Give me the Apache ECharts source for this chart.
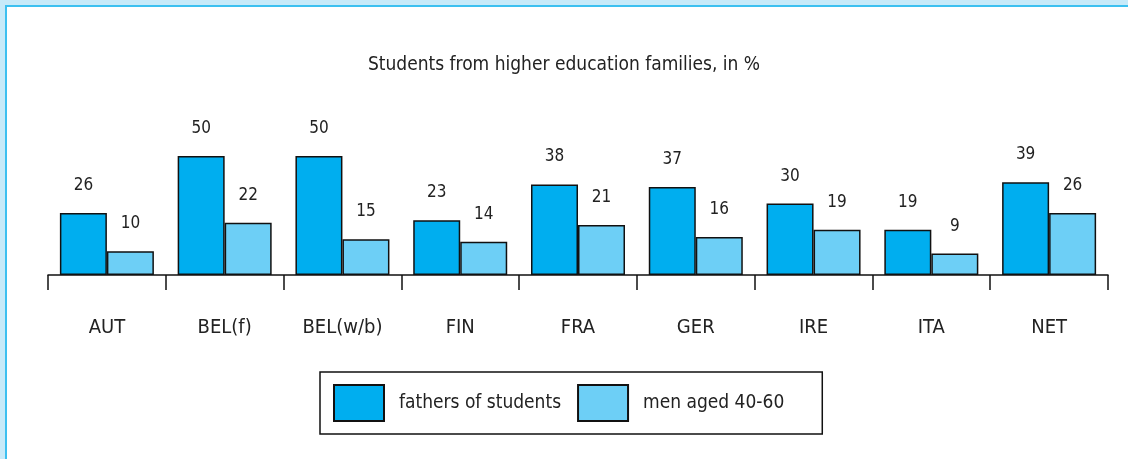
<!DOCTYPE html>
<html>
<head>
    <meta charset="utf-8">
    <title>Students from higher education families</title>
    <script src="https://cdn.jsdelivr.net/npm/echarts@6/dist/echarts.min.js"></script>
    <style>
        html, body { margin: 0; padding: 0; background: #c7eaf9; }
        #frame { position: absolute; left: 5px; top: 5px; width: 1123px; height: 454px;
                 background: #fff; border-left: 2px solid #3cc0f0; border-top: 2px solid #3cc0f0; }
        #main { position: absolute; left: 0; top: 0; width: 1128px; height: 459px; }
    </style>
</head>
<body>
    <div id="frame"></div>
    <div id="main"></div>
    <script type="text/javascript">
    // categories and values
    var countries = ['AUT', 'BEL(f)', 'BEL(w/b)', 'FIN', 'FRA', 'GER', 'IRE', 'ITA', 'NET'];
    var fathers = [26, 50, 50, 23, 38, 37, 30, 19, 39];
    var menAged = [10, 22, 15, 14, 21, 16, 19, 9, 26];

    var font = '"DejaVu Sans Condensed", "Liberation Sans Narrow", sans-serif';
    var myChart = echarts.init(document.getElementById('main'));

    function barSeries(name, data, color) {
        return {
            name: name,
            type: 'bar',
            data: data,
            barWidth: 47,
            barGap: '0%',
            itemStyle: { color: color, borderColor: '#111', borderWidth: 1.5 },
            label: {
                show: true,
                position: 'top',
                distance: 19,
                color: '#222',
                fontFamily: font,
                fontSize: 17
            },
            animation: false
        };
    }

    var option = {
        textStyle: { fontFamily: font },
        title: {
            text: 'Students from higher education families, in %',
            left: 'center',
            top: 51,
            textStyle: { fontFamily: font, fontSize: 19, fontWeight: 'normal', color: '#222' }
        },
        legend: {
            left: 320,
            top: 372,
            orient: 'horizontal',
            borderColor: '#111',
            borderWidth: 1.5,
            padding: [12, 38, 12, 13],
            itemWidth: 50,
            itemHeight: 36,
            itemGap: 16,
            icon: 'rect',
            itemStyle: { borderColor: '#111', borderWidth: 2 },
            textStyle: { fontFamily: font, fontSize: 19, color: '#222', padding: [0, 0, 0, 10] },
            data: ['fathers of students', 'men aged 40-60']
        },
        grid: { left: 48, right: 20, top: 156, bottom: 184 },
        xAxis: {
            type: 'category',
            data: countries,
            axisLine: { show: true, lineStyle: { color: '#111', width: 1.5 } },
            axisTick: { show: true, interval: 0, length: 15, lineStyle: { color: '#111', width: 1.5 } },
            axisLabel: { margin: 43, fontFamily: font, fontSize: 20, color: '#222' }
        },
        yAxis: {
            type: 'value',
            min: 0,
            max: 50,
            show: false,
            splitLine: { show: false }
        },
        series: [
            barSeries('fathers of students', fathers, '#00aeef'),
            barSeries('men aged 40-60', menAged, '#6dcff6')
        ]
    };
    myChart.setOption(option);
    </script>
</body>
</html>
